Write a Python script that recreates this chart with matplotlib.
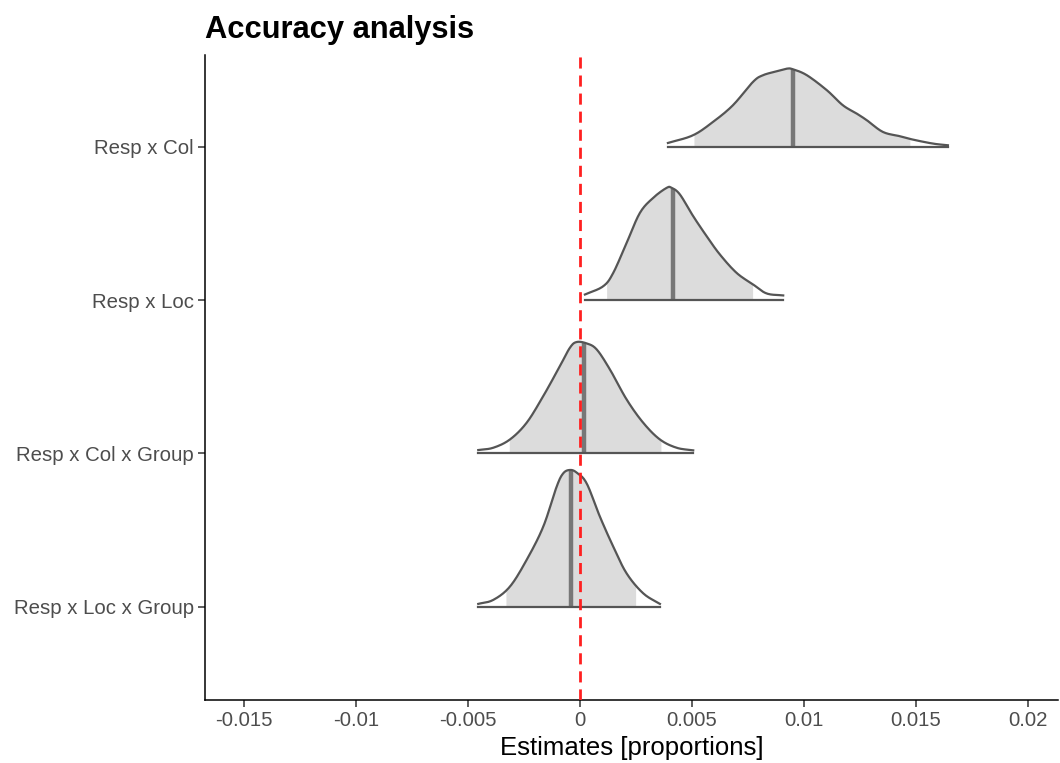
import numpy as np
import matplotlib
matplotlib.use("Agg")
import matplotlib.pyplot as plt

plt.rcParams['font.family'] = ['Liberation Sans', 'DejaVu Sans']

# ---------------- data ----------------
params = ["Resp x Loc x Group", "Resp x Col x Group", "Resp x Loc", "Resp x Col"]

col_x = [0.003929, 0.005045, 0.005938, 0.006830, 0.007723, 0.008170, 0.008795, 0.009241,
         0.009509, 0.010134, 0.011027, 0.011741, 0.012366, 0.012813, 0.013527, 0.014286,
         0.014866, 0.015759, 0.016429]
col_d = [0.026, 0.076, 0.163, 0.272, 0.424, 0.468, 0.494, 0.511, 0.507, 0.468, 0.370,
         0.272, 0.217, 0.174, 0.098, 0.070, 0.048, 0.022, 0.011]

loc_x = [0.000223, 0.001040, 0.001487, 0.002085, 0.002679, 0.003272, 0.003871, 0.004094,
         0.004464, 0.005058, 0.005656, 0.006250, 0.006996, 0.007737, 0.008335, 0.009076]
loc_d = [0.037, 0.091, 0.178, 0.374, 0.570, 0.668, 0.733, 0.733, 0.690, 0.548, 0.418,
         0.298, 0.178, 0.102, 0.044, 0.031]

colgrp_x = [-0.00454, -0.00387, -0.003125, -0.00238, -0.001638, -0.000893, -0.000446,
            -0.000147, 0.000299, 0.000746, 0.001339, 0.002085, 0.002826, 0.003571,
            0.004317, 0.005058]
colgrp_d = [0.022, 0.037, 0.091, 0.200, 0.374, 0.570, 0.690, 0.727, 0.718, 0.679, 0.548,
            0.352, 0.200, 0.091, 0.037, 0.020]

locgrp_x = [-0.00454, -0.00387, -0.003125, -0.00238, -0.001638, -0.00104, -0.000746,
            -0.000446, -0.000147, 0.000299, 0.000893, 0.001487, 0.002085, 0.002826,
            0.003571]
locgrp_d = [0.018, 0.044, 0.131, 0.305, 0.522, 0.783, 0.870, 0.892, 0.875, 0.805, 0.587,
            0.392, 0.217, 0.087, 0.018]

medians = [-0.000402, 0.000179, 0.004165, 0.009496]
inner_lo = [-0.003304, -0.003156, 0.001192, 0.00509]
inner_hi = [0.002487, 0.003616, 0.00771, 0.01473]

xticks = [-0.015, -0.01, -0.005, 0, 0.005, 0.01, 0.015, 0.02]
xticklabels = ["-0.015", "-0.01", "-0.005", "0", "0.005", "0.01", "0.015", "0.02"]

curves_x = [locgrp_x, colgrp_x, loc_x, col_x]
curves_d = [locgrp_d, colgrp_d, loc_d, col_d]


def smooth(x, y, n=12):
    """Catmull-Rom rendering of the read points (drawing only)."""
    x = np.asarray(x, float); y = np.asarray(y, float)
    px = np.concatenate([[2 * x[0] - x[1]], x, [2 * x[-1] - x[-2]]])
    py = np.concatenate([[2 * y[0] - y[1]], y, [2 * y[-1] - y[-2]]])
    ox, oy = [], []
    t = np.linspace(0, 1, n, endpoint=False)
    for i in range(1, len(px) - 2):
        p0, p1, p2, p3 = px[i - 1:i + 3]
        q0, q1, q2, q3 = py[i - 1:i + 3]
        f = lambda a0, a1, a2, a3: 0.5 * ((2 * a1) + (-a0 + a2) * t +
                                          (2 * a0 - 5 * a1 + 4 * a2 - a3) * t ** 2 +
                                          (-a0 + 3 * a1 - 3 * a2 + a3) * t ** 3)
        ox.append(f(p0, p1, p2, p3)); oy.append(f(q0, q1, q2, q3))
    ox.append([x[-1]]); oy.append([y[-1]])
    return np.concatenate(ox), np.concatenate(oy)


fig = plt.figure(figsize=(10.6, 7.63), dpi=100)
ax = fig.add_axes([0.1934, 0.0826, 0.8046, 0.8453])

outline = "#555555"
fill_c = "#dcdcdc"
med_c = "#777777"

for i, (cx, cd) in enumerate(zip(curves_x, curves_d)):
    base = i + 1
    sx, sy = smooth(cx, cd)
    mask = (sx >= inner_lo[i]) & (sx <= inner_hi[i])
    xs = np.concatenate([[inner_lo[i]], sx[mask], [inner_hi[i]]])
    ys = np.interp(xs, sx, sy)
    ax.fill_between(xs, base, base + ys, color=fill_c, lw=0, zorder=2)
    mh = np.interp(medians[i], sx, sy)
    ax.plot([medians[i], medians[i]], [base, base + mh], color=med_c, lw=3.2,
            solid_capstyle="butt", zorder=3)
    ax.plot(sx, base + sy, color=outline, lw=1.6, zorder=4)
    ax.plot([cx[0], cx[-1]], [base, base], color=outline, lw=1.6, zorder=4)

ax.axvline(0, color="#ff2020", lw=2, ls=(0, (4, 2.5)), zorder=6)

ax.set_xlim(-0.01674, 0.02134)
ax.set_ylim(0.391, 4.60)
ax.set_xticks(xticks)
ax.set_xticklabels(xticklabels)
ax.set_yticks([1, 2, 3, 4])
ax.set_yticklabels(params)
for s in ["top", "right"]:
    ax.spines[s].set_visible(False)
for s in ["left", "bottom"]:
    ax.spines[s].set_linewidth(1.1)
    ax.spines[s].set_color("black")
ax.tick_params(axis="both", length=5, width=1.1, color="#333333",
               labelsize=14.7, labelcolor="#4d4d4d", pad=3)
ax.set_xlabel("Estimates [proportions]", fontsize=18.5, color="black", labelpad=4)
fig.text(0.1934, 0.9605, "Accuracy analysis", fontsize=22.2, fontweight="bold",
         ha="left", va="center")

fig.savefig("out.png", dpi=100)
